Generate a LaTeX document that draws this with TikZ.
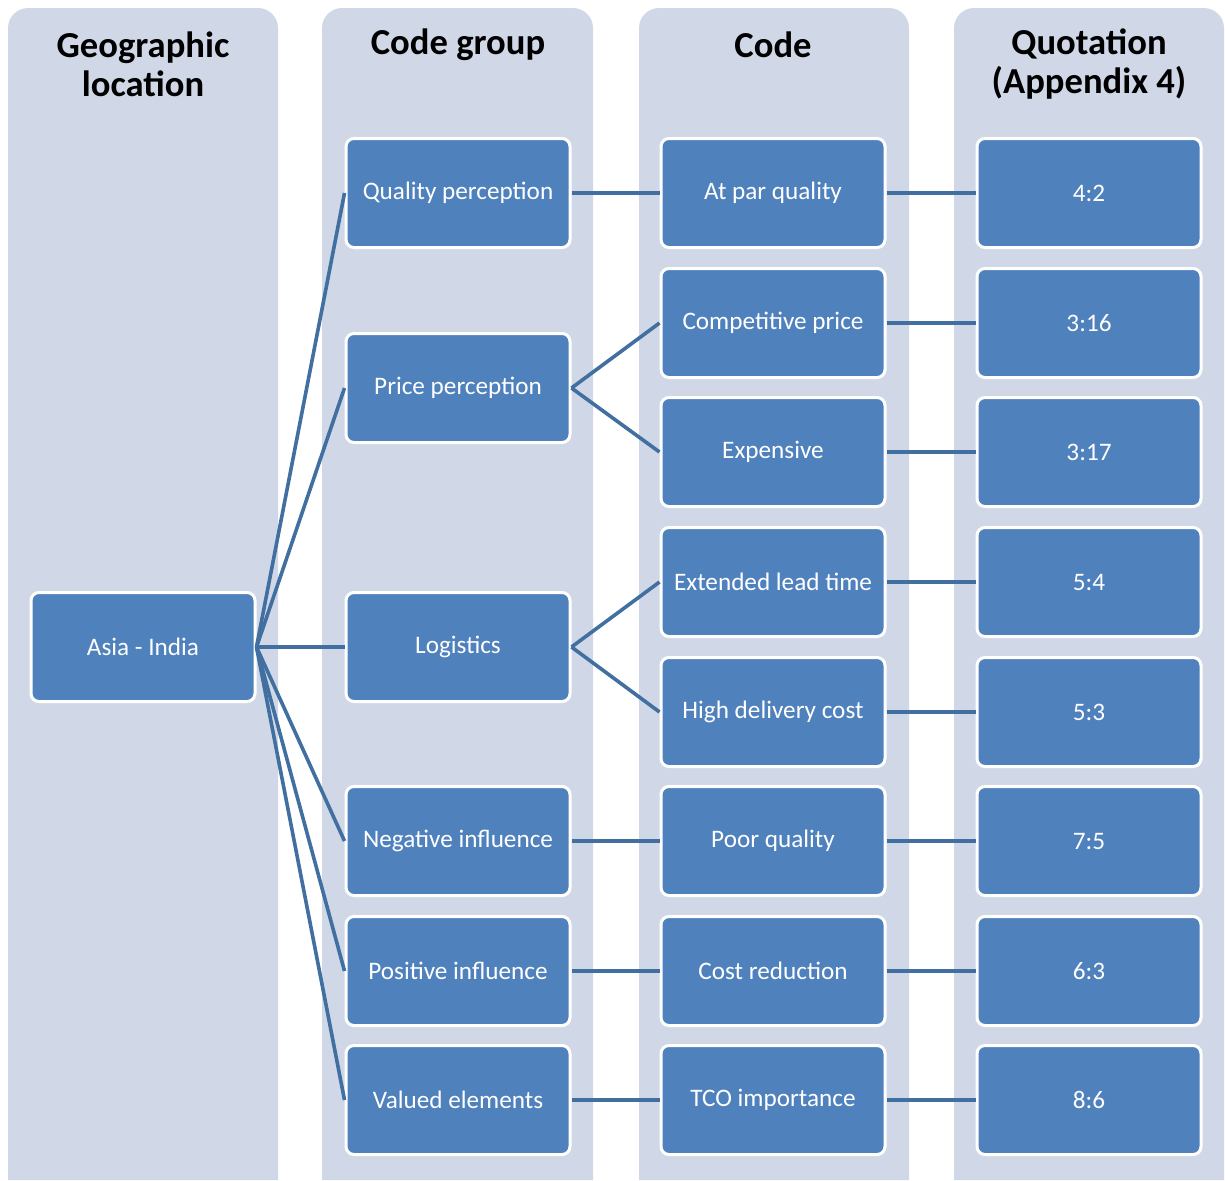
\documentclass[tikz,border=0pt]{standalone}
\usepackage{fontspec}
\setmainfont{Carlito}
\begin{document}
\begin{tikzpicture}[x=0.5pt,y=-0.5pt,
  band/.style={fill=bandcol},
  head/.style={font=\bfseries\fontsize{18.3}{19.5}\selectfont, text=black, align=center},
  box/.style={draw=white, line width=1.5pt, fill=boxcol, rounded corners=4pt,
    minimum width=112pt, minimum height=54.5pt, inner sep=0pt,
    text=white, font=\fontsize{12.6}{15}\selectfont},
  link/.style={draw=linecol, line width=1.8pt}]
\definecolor{bandcol}{HTML}{D0D8E8}
\definecolor{boxcol}{HTML}{4F81BD}
\definecolor{linecol}{HTML}{416F9F}
\useasboundingbox (0,0) rectangle (1225,1180);
% column bands, rounded at the top only
\foreach \l/\r in {8/278, 322/593, 639/909, 954/1224}
  \fill[band] (\l,1180) [rounded corners=10pt] -- (\l,8) -- (\r,8) [sharp corners] -- (\r,1180) -- cycle;
% headings
\node[head] (h1) at (143,64) {Geographic\\location};
\node[head] (h2) at (458,45) {Code group};
\node[head] (h3) at (773,45) {Code};
\node[head] (h4) at (1089,64) {Quotation\\(Appendix 4)};
% geographic location
\node[box] (asia) at (143,647) {Asia - India};
% code groups
\node[box] (qp)  at (458,193)  {Quality perception};
\node[box] (pp)  at (458,388)  {Price perception};
\node[box] (lg)  at (458,647)  {Logistics};
\node[box] (ni)  at (458,841)  {Negative influence};
\node[box] (pi)  at (458,971)  {Positive influence};
\node[box] (ve)  at (458,1100) {Valued elements};
% codes
\node[box] (c1) at (773,193)  {At par quality};
\node[box] (c2) at (773,323)  {Competitive price};
\node[box] (c3) at (773,452)  {Expensive};
\node[box] (c4) at (773,582)  {Extended lead time};
\node[box] (c5) at (773,712)  {High delivery cost};
\node[box] (c6) at (773,841)  {Poor quality};
\node[box] (c7) at (773,971)  {Cost reduction};
\node[box] (c8) at (773,1100) {TCO importance};
% quotations
\node[box] (q1) at (1089,193)  {4:2};
\node[box] (q2) at (1089,323)  {3:16};
\node[box] (q3) at (1089,452)  {3:17};
\node[box] (q4) at (1089,582)  {5:4};
\node[box] (q5) at (1089,712)  {5:3};
\node[box] (q6) at (1089,841)  {7:5};
\node[box] (q7) at (1089,971)  {6:3};
\node[box] (q8) at (1089,1100) {8:6};
% location to code groups
\foreach \g in {qp,pp,lg,ni,pi,ve}
  \draw[link] (asia.east) -- (\g.west);
% code groups to codes
\draw[link] (qp.east) -- (c1.west);
\draw[link] (pp.east) -- (c2.west);
\draw[link] (pp.east) -- (c3.west);
\draw[link] (lg.east) -- (c4.west);
\draw[link] (lg.east) -- (c5.west);
\draw[link] (ni.east) -- (c6.west);
\draw[link] (pi.east) -- (c7.west);
\draw[link] (ve.east) -- (c8.west);
% codes to quotations
\foreach \i in {1,...,8}
  \draw[link] (c\i.east) -- (q\i.west);
\end{tikzpicture}
\end{document}
